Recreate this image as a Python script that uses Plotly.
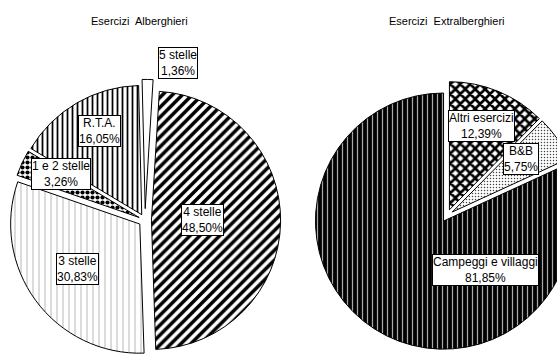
import plotly.graph_objects as go

# Esercizi alberghieri: quota % per categoria
hotel_labels = ["4 stelle", "3 stelle", "1 e 2 stelle", "R.T.A.", "5 stelle"]
hotel_share = [48.50, 30.83, 3.26, 16.05, 1.36]

# Esercizi extralberghieri: quota % per tipologia
extra_labels = ["Altri esercizi", "B&B", "Campeggi e villaggi"]
extra_share = [12.39, 5.75, 81.85]

titles = ["Esercizi  Alberghieri", "Esercizi  Extralberghieri"]

# The canvas is wider than the visible window so the right pie runs off the edge
FIG_W, FIG_H = 610, 361


def pct(v):
    return f"{v:.2f}".replace(".", ",") + "%"


def px_x(v):
    return v / FIG_W


def px_y(v):
    return 1 - v / FIG_H


FONT = "Liberation Sans, Arial, sans-serif"

fig = go.Figure()

fig.add_trace(go.Pie(
    labels=hotel_labels,
    values=hotel_share,
    sort=False,
    direction="clockwise",
    rotation=3.5,
    pull=[0.05, 0.05, 0.05, 0.05, 0.09],
    textinfo="none",
    hoverinfo="label+value",
    showlegend=False,
    domain=dict(x=[0.0, px_x(290)], y=[0.0, 0.78]),
    marker=dict(
        colors=["white"] * 5,
        line=dict(color="black", width=1),
        pattern=dict(
            shape=["/", "|", ".", "|", ""],
            fgcolor=["black", "#b0b0b0", "black", "black", "black"],
            bgcolor=["white"] * 5,
            size=[7, 6, 5, 5, 6],
            solidity=[0.5, 0.15, 0.55, 0.35, 0.2],
            fillmode="replace",
        ),
    ),
))

fig.add_trace(go.Pie(
    labels=extra_labels,
    values=extra_share,
    sort=False,
    direction="clockwise",
    rotation=0,
    pull=[0.05, 0.05, 0.05],
    textinfo="none",
    hoverinfo="label+value",
    showlegend=False,
    domain=dict(x=[px_x(2 * 447 - FIG_W), 1.0], y=[0.03, 0.775]),
    marker=dict(
        colors=["white", "white", "black"],
        line=dict(color="black", width=1),
        pattern=dict(
            shape=["x", ".", "|"],
            fgcolor=["black", "#444444", "#a8a8a8"],
            bgcolor=["white", "white", "black"],
            size=[7, 3, 5],
            solidity=[0.62, 0.2, 0.25],
            fillmode="replace",
        ),
    ),
))

# Titoli dei due grafici
annotations = [
    dict(text=titles[0], x=px_x(139), y=px_y(21)),
    dict(text=titles[1], x=px_x(447), y=px_y(21)),
]
for a in annotations:
    a.update(xref="paper", yref="paper", showarrow=False,
             xanchor="center", yanchor="middle",
             font=dict(family=FONT, size=11, color="black"))

# Etichette con categoria e quota, in riquadri bianchi
hotel_pos = [(202, 220), (77, 269), (61, 174), (99, 131), (178, 63)]
extra_pos = [(481, 126), (521, 159), (485, 270)]

for labels, shares, positions in [(hotel_labels, hotel_share, hotel_pos),
                                  (extra_labels, extra_share, extra_pos)]:
    for lab, val, (lx, ly) in zip(labels, shares, positions):
        annotations.append(dict(
            text=f"{lab}<br>{pct(val)}",
            x=px_x(lx), y=px_y(ly), xref="paper", yref="paper", showarrow=False,
            xanchor="center", yanchor="middle", align="center",
            bgcolor="white", bordercolor="black", borderwidth=1, borderpad=0,
            font=dict(family=FONT, size=12, color="black"),
        ))

fig.update_layout(
    width=FIG_W,
    height=FIG_H,
    margin=dict(l=0, r=0, t=0, b=0),
    paper_bgcolor="white",
    plot_bgcolor="white",
    separators=",.",
    annotations=annotations,
)

fig.write_html("out.html")
